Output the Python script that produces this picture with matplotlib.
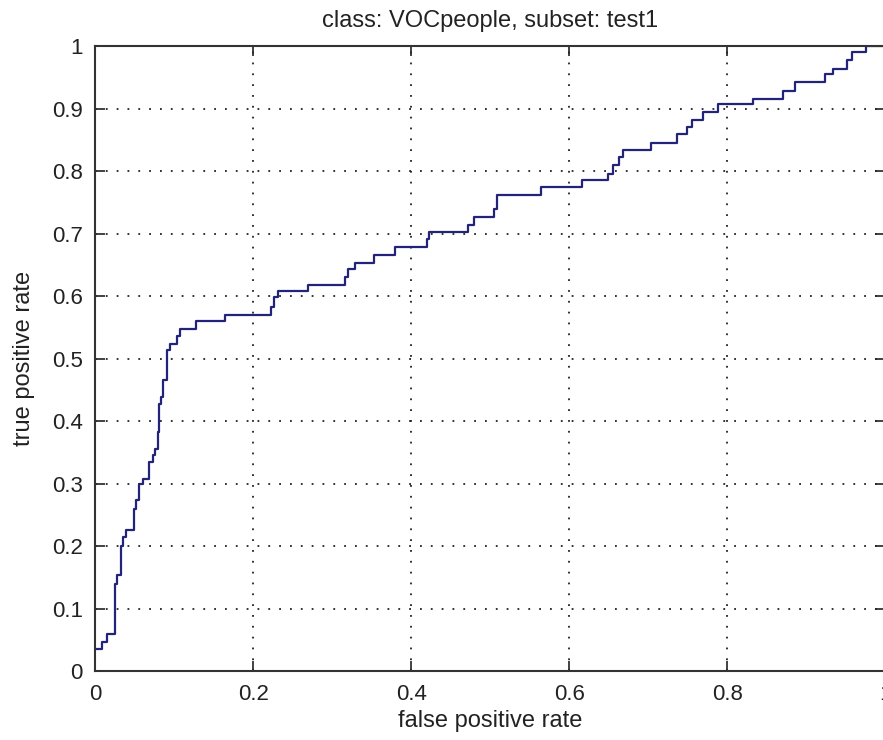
import matplotlib
matplotlib.use('Agg')
import matplotlib.pyplot as plt
import numpy as np

# ROC staircase: at each fpr the tpr jumps up to the given value
fpr = [0.0, 0.0078, 0.0142, 0.0247, 0.0268, 0.0323, 0.0344, 0.0386, 0.0491, 0.0513,
       0.0554, 0.0597, 0.0677, 0.0724, 0.0753, 0.0787, 0.0808, 0.0829, 0.0851, 0.0901,
       0.0943, 0.1028, 0.107, 0.128, 0.164, 0.2218, 0.226, 0.2314, 0.2694, 0.3158,
       0.32, 0.3285, 0.3525, 0.379, 0.42, 0.4225, 0.4719, 0.4791, 0.5044, 0.5086,
       0.5639, 0.6162, 0.6491, 0.6554, 0.663, 0.6673, 0.7028, 0.7357, 0.7484, 0.7554,
       0.7686, 0.7884, 0.8319, 0.8699, 0.8854, 0.9234, 0.9339, 0.9509, 0.9572, 0.975, 1.0]
tpr = [0.036, 0.047, 0.06, 0.14, 0.154, 0.2, 0.215, 0.226, 0.26, 0.274,
       0.3, 0.308, 0.334, 0.346, 0.356, 0.383, 0.428, 0.439, 0.466, 0.514,
       0.523, 0.536, 0.548, 0.56, 0.57, 0.583, 0.599, 0.6085, 0.618, 0.631,
       0.644, 0.653, 0.666, 0.679, 0.692, 0.702, 0.714, 0.727, 0.74, 0.762,
       0.775, 0.786, 0.796, 0.81, 0.823, 0.834, 0.845, 0.859, 0.871, 0.881,
       0.894, 0.907, 0.916, 0.9285, 0.942, 0.955, 0.964, 0.978, 0.991, 1.0, 1.0]

x_ticks = [0, 0.2, 0.4, 0.6, 0.8, 1]
x_labels = ['0', '0.2', '0.4', '0.6', '0.8', '1']
y_ticks = [0, 0.1, 0.2, 0.3, 0.4, 0.5, 0.6, 0.7, 0.8, 0.9, 1]
y_labels = ['0', '0.1', '0.2', '0.3', '0.4', '0.5', '0.6', '0.7', '0.8', '0.9', '1']

plt.rcParams['font.family'] = ['Liberation Sans', 'DejaVu Sans']

fig = plt.figure(figsize=(8.83, 7.4), dpi=100)
ax = fig.add_axes([0.108, 0.0932, 0.8947, 0.8446])

ax.plot(fpr, tpr, drawstyle='steps-post', color='#23237a', linewidth=1.6)

ax.set_xlim(0, 1)
ax.set_ylim(0, 1)
ax.set_xticks(x_ticks)
ax.set_xticklabels(x_labels)
ax.set_yticks(y_ticks)
ax.set_yticklabels(y_labels)

# matlab look: inward ticks on all sides, dotted grid
ax.tick_params(direction='in', length=7, width=1.2, top=True, right=True,
               labelsize=16, pad=9, colors='#222222')
ax.grid(True, color='#222222', linestyle=(0, (1, 5)), linewidth=1.3)
for side in ax.spines.values():
    side.set_linewidth(1.5)
    side.set_color('#333333')

ax.set_xlabel('false positive rate', fontsize=17, labelpad=4, color='#222222')
ax.set_ylabel('true positive rate', fontsize=17, labelpad=12, color='#222222')
ax.set_title('class: VOCpeople, subset: test1', fontsize=17, pad=14, color='#222222')

fig.savefig('out.png', dpi=100)
